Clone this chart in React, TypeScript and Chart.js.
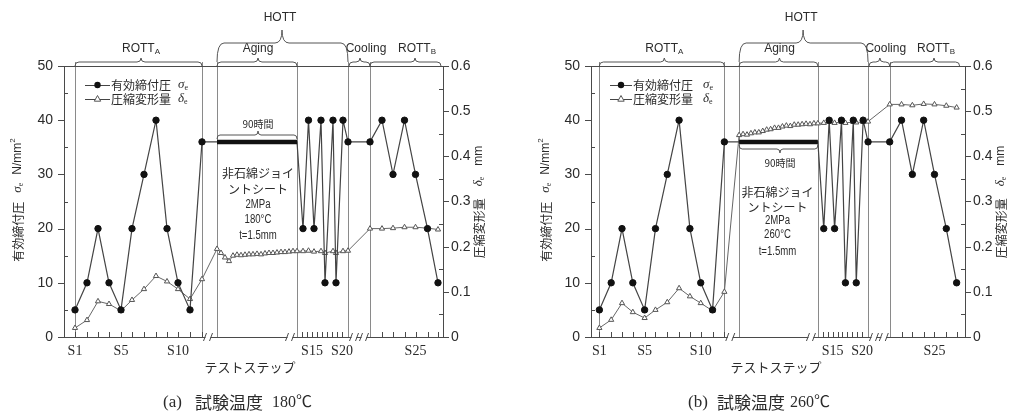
import React, { useEffect, useRef } from 'react';
import { Chart, registerables } from 'chart.js';

Chart.register(...registerables);

// ---------------- data ----------------
// position of each test step along the (broken) step axis, in axis units
const stepPos = [11, 23, 34, 45, 57, 68, 80, 92, 103, 114, 126, 138, 153, 233, 239, 244.5, 250, 257, 261, 269, 272, 279, 284, 306, 318, 329, 340.5, 351.5, 363.5, 374];
// effective gasket stress σe (N/mm²) — same loading programme for both tests
const stressValues = [5, 10, 20, 10, 5, 20, 30, 40, 20, 10, 5, 36, 36, 36, 20, 40, 20, 40, 10, 40, 10, 40, 36, 36, 40, 30, 40, 30, 20, 10];
const agingStart = 153;
const agingEnd = 233;
const agingStress = 36;

// compression deformation δe (mm)
const deformPos = [11, 23, 34, 45, 57, 68, 80, 92, 103, 114, 126, 138,
  153, 157, 161, 165, 169, 173, 177, 181, 185, 189, 193, 197, 201, 205, 209, 213, 217, 221, 225, 229, 233,
  239, 244.5, 250, 257, 261, 269, 272, 279, 284,
  306, 318, 329, 340.5, 351.5, 363.5, 374];
const deform180 = [0.02, 0.0375, 0.079, 0.073, 0.058, 0.082, 0.106, 0.135, 0.123, 0.106, 0.084, 0.128,
  0.195, 0.186, 0.176, 0.168, 0.18, 0.182, 0.181, 0.182, 0.183, 0.183, 0.184, 0.183, 0.185, 0.186, 0.186, 0.187, 0.188, 0.188, 0.189, 0.19, 0.19,
  0.19, 0.191, 0.189, 0.19, 0.186, 0.19, 0.186, 0.19, 0.191,
  0.24, 0.24, 0.241, 0.243, 0.243, 0.241, 0.238];
const deform260 = [0.02, 0.038, 0.075, 0.055, 0.042, 0.06, 0.077, 0.108, 0.09, 0.075, 0.058, 0.1,
  0.447, 0.449, 0.448, 0.451, 0.453, 0.453, 0.456, 0.459, 0.46, 0.463, 0.463, 0.466, 0.468, 0.467, 0.47, 0.47, 0.471, 0.472, 0.471, 0.473, 0.473,
  0.474, 0.476, 0.474, 0.476, 0.474, 0.476, 0.475, 0.476, 0.477,
  0.515, 0.515, 0.513, 0.516, 0.515, 0.512, 0.508];

const xTickValues = [11, 57, 114, 248, 278, 351.5];
const xTickLabels = ['S1', 'S5', 'S10', 'S15', 'S20', 'S25'];
const stepTickPos = [11, 23, 34, 45, 57, 68, 80, 92, 103, 114, 126, 138, 238, 243, 248, 253, 258, 263, 268, 273, 278, 318, 329, 340.5, 351.5, 363.5, 374];
const axisBreaks = [144, 226, 290, 300];
const phaseDividers = [11, 138, 153, 233, 284, 306];
const phaseNames = ['ROTT', 'Aging', 'Cooling', 'ROTT'];
const phaseSubs = ['A', '', '', 'B'];
const phaseFrom = [11, 153, 285, 306];
const phaseTo = [138, 233, 306, 377];
const phaseMid = [77, 194, 296, 351];
const phaseLabelAt = [77, 194, 302, 353];
const hottFrom = 153;
const hottTo = 284;
const hottMid = 218;

const note180 = ['非石綿ジョイ', 'ントシート', '2MPa', '180°C', 't=1.5mm'];
const note260 = ['非石綿ジョイ', 'ントシート', '2MPa', '260°C', 't=1.5mm'];

// ---------------- styles ----------------
const JP = '"Noto Sans CJK JP", "Noto Sans", sans-serif';
const SANS = '"Liberation Sans", Arial, sans-serif';
const SERIF = '"Liberation Serif", "Noto Sans CJK JP", serif';
const TEXT = '#2b2b2b';
const AXIS = '#4a4a4a';
const GUIDE = '#8a8a8a';

type PanelSpec = {
  id: string;
  deform: number[];
  xMin: number;
  xMax: number;
  padL: number;
  padR: number;
  caption: string[];
  captionX: number[];
  note: string[];
  noteAt: number;
  noteY: number[];
  hoursAt: number;
  hoursY: number;
  hoursAbove: boolean;
  legendX: number;
  legendW: number;
  legendText: number;
  legendSym: number;
  yTitleX: number;
  y1TitleX: number;
  xTitleX: number;
};

const panels: PanelSpec[] = [
  {
    id: 'a', deform: deform180, xMin: 0, xMax: 379, padL: 4, padR: 22,
    caption: ['(a)', '試験温度', '180℃'], captionX: [163, 195, 272],
    note: note180, noteAt: 194, noteY: [173, 189, 205, 220, 236],
    hoursAt: 194, hoursY: 124, hoursAbove: true,
    legendX: 85, legendW: 25, legendText: 111, legendSym: 178,
    yTitleX: 18, y1TitleX: 479, xTitleX: 250,
  },
  {
    id: 'b', deform: deform260, xMin: 2.5, xMax: 382.5, padL: 26, padR: 5,
    caption: ['(b)', '試験温度', '260℃'], captionX: [183, 212, 285],
    note: note260, noteAt: 192, noteY: [192, 207, 221, 235, 252],
    hoursAt: 194.5, hoursY: 163, hoursAbove: false,
    legendX: 105, legendW: 22, legendText: 128, legendSym: 198,
    yTitleX: 41, y1TitleX: 496, xTitleX: 271,
  },
];

// ---------------- drawing helpers ----------------
type Piece = { t?: string; font?: string; dy?: number; gap?: number };

function drawPieces(ctx: CanvasRenderingContext2D, x: number, y: number, pieces: Piece[], align: 'left' | 'center') {
  const ws = pieces.map((p) => {
    if (p.gap) return p.gap;
    ctx.font = p.font as string;
    return ctx.measureText(p.t as string).width;
  });
  const total = ws.reduce((s, w) => s + w, 0);
  let cx = align === 'center' ? x - total / 2 : x;
  ctx.textAlign = 'left';
  ctx.textBaseline = 'middle';
  pieces.forEach((p, i) => {
    if (p.t) {
      ctx.font = p.font as string;
      ctx.fillText(p.t, cx, y + (p.dy || 0));
    }
    cx += ws[i];
  });
}

function seg(ctx: CanvasRenderingContext2D, x1: number, y1: number, x2: number, y2: number) {
  ctx.beginPath();
  ctx.moveTo(x1, y1);
  ctx.lineTo(x2, y2);
  ctx.stroke();
}

function brace(ctx: CanvasRenderingContext2D, x1: number, x2: number, xm: number, yEnd: number, yBar: number, yTip: number, r: number) {
  ctx.beginPath();
  ctx.moveTo(x1, yEnd);
  ctx.quadraticCurveTo(x1, yBar, x1 + r, yBar);
  ctx.lineTo(xm - r, yBar);
  ctx.quadraticCurveTo(xm, yBar, xm, yTip);
  ctx.quadraticCurveTo(xm, yBar, xm + r, yBar);
  ctx.lineTo(x2 - r, yBar);
  ctx.quadraticCurveTo(x2, yBar, x2, yEnd);
  ctx.stroke();
}

function makePlugin(p: PanelSpec) {
  return {
    id: 'decor' + p.id,
    beforeDatasetsDraw(chart: any) {
      const { ctx, chartArea: a, scales } = chart;
      const xs = scales.x;
      ctx.save();
      ctx.lineWidth = 1;
      ctx.strokeStyle = GUIDE;
      phaseDividers.forEach((v) => {
        const px = Math.round(xs.getPixelForValue(v)) + 0.5;
        seg(ctx, px, a.top - 4, px, a.bottom);
      });
      ctx.strokeStyle = AXIS;
      seg(ctx, a.left, Math.round(a.top) + 0.5, a.right, Math.round(a.top) + 0.5);
      ctx.restore();
    },
    afterDraw(chart: any) {
      const { ctx, chartArea: a, scales } = chart;
      const xs = scales.x;
      const ys = scales.y;
      const y1s = scales.y1;
      ctx.save();
      ctx.lineWidth = 1;
      ctx.strokeStyle = AXIS;
      ctx.fillStyle = TEXT;

      // axis tick marks
      for (let v = 0; v <= 50; v += 5) {
        const py = Math.round(ys.getPixelForValue(v)) + 0.5;
        if (v % 10 === 0) seg(ctx, a.left - 6, py, a.left, py);
        else seg(ctx, a.left, py, a.left + 4, py);
      }
      for (let i = 0; i <= 12; i++) {
        const py = Math.round(y1s.getPixelForValue(i * 0.05)) + 0.5;
        if (i % 2 === 0) seg(ctx, a.right, py, a.right + 6, py);
        else seg(ctx, a.right - 4, py, a.right, py);
      }
      stepTickPos.forEach((v) => {
        const px = Math.round(xs.getPixelForValue(v)) + 0.5;
        seg(ctx, px, a.bottom, px, a.bottom - 5);
      });

      // axis breaks
      axisBreaks.forEach((v) => {
        const px = xs.getPixelForValue(v);
        ctx.fillStyle = '#fff';
        ctx.fillRect(px - 2.5, a.bottom - 1.5, 5, 3);
        ctx.beginPath();
        ctx.moveTo(px - 4.5, a.bottom + 4);
        ctx.lineTo(px - 1.5, a.bottom - 4);
        ctx.moveTo(px + 1.5, a.bottom + 4);
        ctx.lineTo(px + 4.5, a.bottom - 4);
        ctx.stroke();
      });
      ctx.fillStyle = TEXT;

      // phase braces and names
      ctx.strokeStyle = '#555';
      phaseNames.forEach((name, i) => {
        const x1 = xs.getPixelForValue(phaseFrom[i]);
        const x2 = xs.getPixelForValue(phaseTo[i]);
        const xm = xs.getPixelForValue(phaseMid[i]);
        brace(ctx, x1, x2, xm, a.top, a.top - 4, a.top - 8, 4);
        const pieces: Piece[] = [{ t: name, font: `12px ${SANS}` }];
        if (phaseSubs[i]) pieces.push({ t: phaseSubs[i], font: `8px ${SANS}`, dy: 3 });
        drawPieces(ctx, xs.getPixelForValue(phaseLabelAt[i]), a.top - 17, pieces, 'center');
      });
      brace(ctx, xs.getPixelForValue(hottFrom), xs.getPixelForValue(hottTo), xs.getPixelForValue(hottMid), a.top - 4, a.top - 23, a.top - 36, 7);
      drawPieces(ctx, xs.getPixelForValue(hottMid - 2), a.top - 48, [{ t: 'HOTT', font: `12px ${SANS}` }], 'center');

      // legend
      const rows = [
        { y: 85, tri: false, label: '有効締付圧', sym: 'σ' },
        { y: 99, tri: true, label: '圧縮変形量', sym: 'δ' },
      ];
      rows.forEach((r) => {
        ctx.strokeStyle = '#444';
        seg(ctx, p.legendX, r.y + 0.5, p.legendX + p.legendW, r.y + 0.5);
        const mx = p.legendX + p.legendW / 2;
        if (r.tri) {
          ctx.beginPath();
          ctx.moveTo(mx, r.y - 3.5);
          ctx.lineTo(mx - 3.2, r.y + 2.2);
          ctx.lineTo(mx + 3.2, r.y + 2.2);
          ctx.closePath();
          ctx.fillStyle = '#fff';
          ctx.fill();
          ctx.strokeStyle = '#555';
          ctx.stroke();
        } else {
          ctx.beginPath();
          ctx.arc(mx, r.y, 3.2, 0, Math.PI * 2);
          ctx.fillStyle = '#111';
          ctx.fill();
        }
        ctx.fillStyle = TEXT;
        drawPieces(ctx, p.legendText, r.y, [{ t: r.label, font: `12px ${JP}` }], 'left');
        drawPieces(ctx, p.legendSym, r.y, [
          { t: r.sym, font: `italic 13px ${SERIF}` },
          { t: 'e', font: `8px ${SERIF}`, dy: 3 },
        ], 'left');
      });

      // 90 hours label with brace
      const hx1 = xs.getPixelForValue(agingStart);
      const hx2 = xs.getPixelForValue(agingEnd);
      const hxm = xs.getPixelForValue(p.hoursAt);
      ctx.strokeStyle = '#555';
      if (p.hoursAbove) brace(ctx, hx1, hx2, hxm, 139, 135, 131, 3);
      else brace(ctx, hx1, hx2, hxm, 145, 149, 153, 3);
      ctx.fillStyle = TEXT;
      drawPieces(ctx, hxm, p.hoursY, [{ t: '90時間', font: `10px ${JP}` }], 'center');

      // specimen note
      const nx = xs.getPixelForValue(p.noteAt);
      p.note.forEach((t, i) => {
        const isJP = /[^\x00-\x7F°]/.test(t);
        ctx.save();
        ctx.translate(nx, p.noteY[i]);
        if (!isJP) ctx.scale(0.8, 1);
        ctx.font = isJP ? `12px ${JP}` : `12px ${SANS}`;
        ctx.textAlign = 'center';
        ctx.textBaseline = 'middle';
        ctx.fillText(t, 0, 0);
        ctx.restore();
      });

      // axis titles
      ctx.save();
      ctx.translate(p.yTitleX, 200);
      ctx.rotate(-Math.PI / 2);
      drawPieces(ctx, 0, 0, [
        { t: '有効締付圧', font: `12px ${JP}` },
        { gap: 9 },
        { t: 'σ', font: `italic 13px ${SERIF}` },
        { t: 'e', font: `8px ${SERIF}`, dy: 3 },
        { gap: 8 },
        { t: 'N/mm', font: `12px ${SANS}` },
        { t: '2', font: `8px ${SANS}`, dy: -5 },
      ], 'center');
      ctx.restore();

      ctx.save();
      ctx.translate(p.y1TitleX, 202);
      ctx.rotate(-Math.PI / 2);
      drawPieces(ctx, 0, 0, [
        { t: '圧縮変形量', font: `12px ${JP}` },
        { gap: 12 },
        { t: 'δ', font: `italic 13px ${SERIF}` },
        { t: 'e', font: `8px ${SERIF}`, dy: 3 },
        { gap: 11 },
        { t: 'mm', font: `12px ${SANS}` },
      ], 'center');
      ctx.restore();

      drawPieces(ctx, p.xTitleX, 367, [{ t: 'テストステップ', font: `13px ${JP}` }], 'center');

      // caption
      drawPieces(ctx, p.captionX[0], 403, [{ t: p.caption[0], font: `17px ${SERIF}` }], 'left');
      drawPieces(ctx, p.captionX[1], 403, [{ t: p.caption[1], font: `17px ${JP}` }], 'left');
      drawPieces(ctx, p.captionX[2], 403, [{ t: p.caption[2], font: `16px ${SERIF}` }], 'left');

      ctx.restore();
    },
  };
}

function buildConfig(p: PanelSpec): any {
  const hidden = new Set([agingStart, agingEnd]);
  return {
    type: 'line',
    data: {
      datasets: [
        {
          label: 'aging hold',
          data: [{ x: agingStart, y: agingStress }, { x: agingEnd, y: agingStress }],
          borderColor: '#111',
          borderWidth: 4.5,
          borderCapStyle: 'butt',
          pointRadius: 0,
          yAxisID: 'y',
        },
        {
          label: '有効締付圧 σe',
          data: stepPos.map((x, i) => ({ x, y: stressValues[i] })),
          borderColor: '#444',
          borderWidth: 1.2,
          pointStyle: 'circle',
          pointRadius: (c: any) => (hidden.has(stepPos[c.dataIndex]) ? 0 : 3.2),
          pointBackgroundColor: '#111',
          pointBorderColor: '#111',
          pointBorderWidth: 1,
          yAxisID: 'y',
        },
        {
          label: '圧縮変形量 δe',
          data: deformPos.map((x, i) => ({ x, y: p.deform[i] })),
          borderColor: '#666',
          borderWidth: 1,
          pointStyle: 'triangle',
          pointRadius: 3,
          pointBackgroundColor: '#fff',
          pointBorderColor: '#555',
          pointBorderWidth: 1,
          yAxisID: 'y1',
        },
      ],
    },
    options: {
      responsive: false,
      maintainAspectRatio: false,
      animation: false,
      devicePixelRatio: 1,
      events: [],
      layout: { padding: { left: p.padL, right: p.padR, top: 66, bottom: 44 } },
      plugins: { legend: { display: false }, tooltip: { enabled: false } },
      scales: {
        x: {
          type: 'linear',
          min: p.xMin,
          max: p.xMax,
          grid: { display: false, drawTicks: false },
          border: { display: true, color: AXIS, width: 1 },
          afterBuildTicks: (s: any) => {
            s.ticks = xTickValues.map((v) => ({ value: v }));
          },
          ticks: {
            autoSkip: false,
            maxRotation: 0,
            padding: 6,
            color: TEXT,
            font: { family: SERIF, size: 14 },
            callback: (_v: any, i: number) => xTickLabels[i],
          },
          afterFit: (s: any) => {
            s.height = 30;
          },
        },
        y: {
          type: 'linear',
          position: 'left',
          min: 0,
          max: 50,
          grid: { display: false, drawTicks: false },
          border: { display: true, color: AXIS, width: 1 },
          ticks: { stepSize: 10, padding: 11, color: TEXT, font: { family: SANS, size: 14 } },
          afterFit: (s: any) => {
            s.width = 60;
          },
        },
        y1: {
          type: 'linear',
          position: 'right',
          min: 0,
          max: 0.6,
          grid: { display: false, drawTicks: false },
          border: { display: true, color: AXIS, width: 1 },
          ticks: {
            stepSize: 0.1,
            padding: 8,
            color: TEXT,
            font: { family: SANS, size: 14 },
            callback: (v: any) => (Number(v) === 0 ? '0' : Number(v).toFixed(1)),
          },
          afterFit: (s: any) => {
            s.width = 40;
          },
        },
      },
    },
    plugins: [makePlugin(p)],
  };
}

function Panel({ spec, left }: { spec: PanelSpec; left: number }) {
  const ref = useRef<HTMLCanvasElement>(null);
  useEffect(() => {
    const chart = new Chart(ref.current as HTMLCanvasElement, buildConfig(spec));
    return () => chart.destroy();
  }, [spec]);
  return (
    <canvas
      ref={ref}
      width={505}
      height={411}
      style={{ position: 'absolute', left, top: 0, width: 505, height: 411 }}
    />
  );
}

export default function App() {
  return (
    <div style={{ position: 'absolute', left: 0, top: 0, width: 1010, height: 411, background: '#fff' }}>
      <Panel spec={panels[0]} left={0} />
      <Panel spec={panels[1]} left={505} />
    </div>
  );
}
